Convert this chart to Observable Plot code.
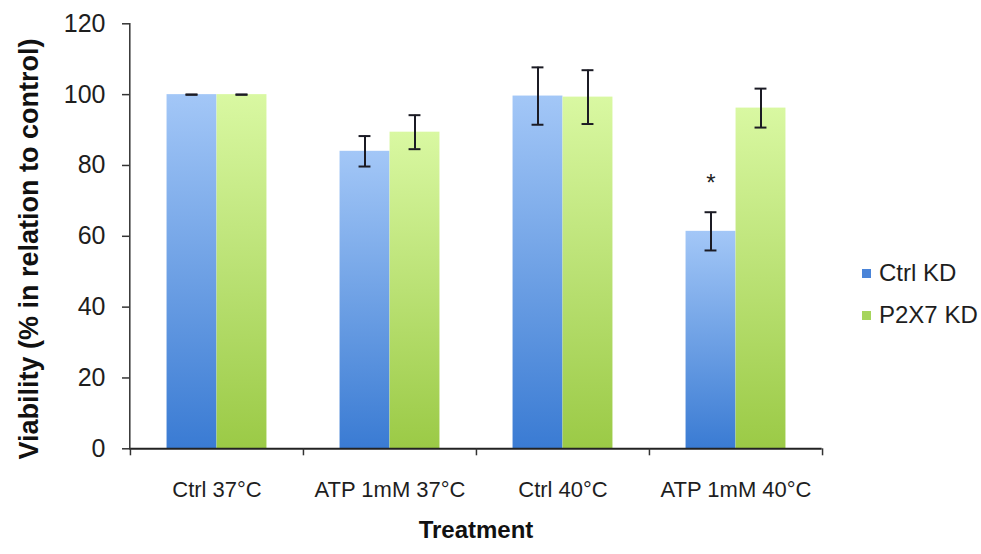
<!DOCTYPE html>
<html><head><meta charset="utf-8">
<script src="https://cdn.jsdelivr.net/npm/d3@7"></script>
<script src="https://cdn.jsdelivr.net/npm/@observablehq/plot@0.6"></script>
<style>
body{margin:0;background:#fff;}
#wrap{position:relative;width:981px;height:554px;font-family:"Liberation Sans",Arial,Helvetica,sans-serif;}
.leg{position:absolute;left:862px;display:flex;align-items:center;font-size:24px;color:#1e1e1e;height:30px;line-height:30px;}
.sw{width:9px;height:9px;margin-right:8px;}
</style></head><body><div id="wrap"></div>
<script>
// ---- data ----
const categories = ["Ctrl 37°C", "ATP 1mM 37°C", "Ctrl 40°C", "ATP 1mM 40°C"];
const seriesNames = ["Ctrl KD", "P2X7 KD"];
const ctrlKD = [100, 84.0, 99.6, 61.4];
const ctrlKDErr = [0, 4.3, 8.1, 5.4];
const p2x7KD = [100, 89.4, 99.3, 96.2];
const p2x7KDErr = [0, 4.8, 7.6, 5.5];
const yTicks = [0, 20, 40, 60, 80, 100, 120];
const significance = [{category: "ATP 1mM 40°C", series: "Ctrl KD", y: 75, label: "*"}];

// ---- layout ----
const W = 981, H = 554;
const mL = 129.3, mR = 159.3, mT = 23.3, mB = 105.7;
const band = (W - mL - mR) / categories.length;
const barW = 50;
const capHalf = 6;

const rows = categories.flatMap((c, i) => [
  {category: c, series: seriesNames[0], value: ctrlKD[i], err: ctrlKDErr[i]},
  {category: c, series: seriesNames[1], value: p2x7KD[i], err: p2x7KDErr[i]}
]);

const seriesStyle = [
  {name: seriesNames[0], fill: "url(#gBlue)", off: -barW / 2, insetLeft: band / 2 - barW, insetRight: band / 2},
  {name: seriesNames[1], fill: "url(#gGreen)", off: barW / 2, insetLeft: band / 2, insetRight: band / 2 - barW}
];

const marks = [];
for (const s of seriesStyle) {
  const d = rows.filter(r => r.series === s.name);
  marks.push(Plot.barY(d, {x: "category", y: "value", fill: s.fill, insetLeft: s.insetLeft, insetRight: s.insetRight}));
}
for (const s of seriesStyle) {
  const d = rows.filter(r => r.series === s.name);
  marks.push(Plot.ruleX(d, {x: "category", y1: r => r.value - r.err, y2: r => r.value + r.err, dx: s.off, stroke: "#1b1b24", strokeWidth: 2}));
  marks.push(Plot.tickY(d, {x: "category", y: r => r.value + r.err, dx: s.off, insetLeft: band / 2 - capHalf, insetRight: band / 2 - capHalf, stroke: "#1b1b24", strokeWidth: 2}));
  marks.push(Plot.tickY(d, {x: "category", y: r => r.value - r.err, dx: s.off, insetLeft: band / 2 - capHalf, insetRight: band / 2 - capHalf, stroke: "#1b1b24", strokeWidth: 2}));
}
marks.push(
  Plot.text(significance, {x: "category", y: "y", text: "label", dx: -barW / 2, fontSize: 24, fill: "#222"}),
  Plot.ruleY([0], {stroke: "#222", strokeWidth: 2}),
  Plot.frame({anchor: "left", stroke: "#333", strokeWidth: 1.5}),
  Plot.axisY({ticks: yTicks, tickSize: 7.3, tickPadding: 17, fontSize: 25, label: null, stroke: "#333", strokeWidth: 1.5, fill: "#1e1e1e"}),
  Plot.axisX({ticks: categories, tickSize: 7, tickFormat: () => "", dx: -band / 2, label: null, stroke: "#333", strokeWidth: 1.5}),
  Plot.axisX({ticks: [categories[categories.length - 1]], tickSize: 7, tickFormat: () => "", dx: band / 2, label: null, stroke: "#333", strokeWidth: 1.5}),
  Plot.axisX({ticks: categories, tickSize: 0, tickPadding: 33, fontSize: 22, label: null, fill: "#1e1e1e"}),
  Plot.text(["Treatment"], {frameAnchor: "bottom", dy: 89, text: d => d, fontSize: 24, fontWeight: "bold", fill: "#111"}),
  Plot.text(["Viability (% in relation to control)"], {frameAnchor: "left", textAnchor: "middle", dx: -100, dy: 12.7, rotate: -90, text: d => d, fontSize: 27, fontWeight: "bold", fill: "#111"})
);

const chart = Plot.plot({
  width: W, height: H,
  marginLeft: mL, marginRight: mR, marginTop: mT, marginBottom: mB,
  style: {fontFamily: '"Liberation Sans", Arial, Helvetica, sans-serif', background: "#fff", overflow: "visible"},
  x: {domain: categories, padding: 0},
  y: {domain: [0, 120]},
  marks
});

// gradient definitions for Excel-like bar shading
const defs = d3.select(chart).insert("defs", ":first-child");
const grads = [
  {id: "gBlue", top: "#a3c7f7", bottom: "#3a7bd3"},
  {id: "gGreen", top: "#d9f8a2", bottom: "#9bca46"}
];
for (const g of grads) {
  const lg = defs.append("linearGradient").attr("id", g.id).attr("x1", 0).attr("y1", 0).attr("x2", 0).attr("y2", 1);
  lg.append("stop").attr("offset", "0%").attr("stop-color", g.top);
  lg.append("stop").attr("offset", "100%").attr("stop-color", g.bottom);
}

const wrap = document.getElementById("wrap");
wrap.appendChild(chart);

// legend (HTML)
const legendColors = ["#4a84d8", "#a6d55c"];
const legendY = [273, 315];
seriesNames.forEach((name, i) => {
  const item = document.createElement("div");
  item.className = "leg";
  item.style.top = (legendY[i] - 15) + "px";
  const sw = document.createElement("div");
  sw.className = "sw";
  sw.style.background = legendColors[i];
  const t = document.createElement("span");
  t.textContent = name;
  item.appendChild(sw);
  item.appendChild(t);
  wrap.appendChild(item);
});
</script>
</body></html>
